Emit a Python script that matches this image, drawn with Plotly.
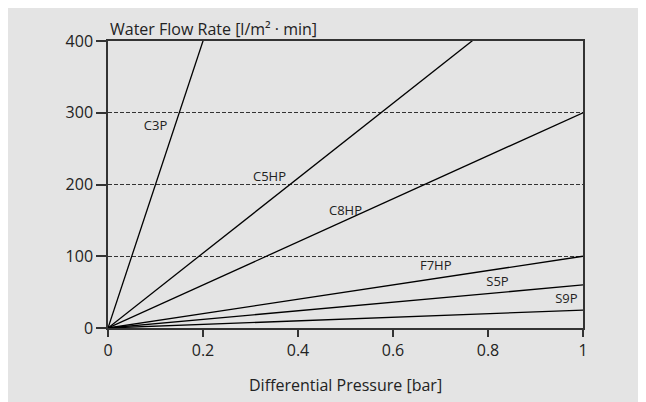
import plotly.graph_objects as go

# Data: flow rate at 1 bar for each membrane type (lines from origin)
names = ["C3P", "C5HP", "C8HP", "F7HP", "S5P", "S9P"]
flow_at_1bar = [2000, 522, 300, 100, 60, 25]
label_x = [0.10, 0.34, 0.50, 0.69, 0.82, 0.965]
label_y = [280, 210, 162, 86, 63, 39]

x_ticks = [0, 0.2, 0.4, 0.6, 0.8, 1]
y_ticks = [0, 100, 200, 300, 400]

FONT = "Open Sans"
GRAY = "#e4e4e4"

fig = go.Figure()
for n, f in zip(names, flow_at_1bar):
    fig.add_trace(go.Scatter(x=[0, 1], y=[0, f], mode="lines",
                             line=dict(color="black", width=1.3),
                             name=n, showlegend=False, hoverinfo="skip",
                             cliponaxis=True))

fig.add_trace(go.Scatter(x=label_x, y=label_y, mode="text", text=names,
                         textfont=dict(family=FONT, size=13, color="#222"),
                         showlegend=False, hoverinfo="skip"))

fig.update_layout(
    width=646, height=402,
    margin=dict(l=100, r=71, t=33, b=82),
    paper_bgcolor=GRAY, plot_bgcolor=GRAY,
    font=dict(family=FONT, size=15, color="#222"),
    annotations=[
        dict(text="Water Flow Rate [l/m² · min]", xref="paper", yref="paper",
             x=0.0, y=0.996, xanchor="left", yanchor="bottom", showarrow=False,
             font=dict(family=FONT, size=16, color="#222")),
        dict(text="Differential Pressure [bar]", xref="paper", yref="paper",
             x=0.5, y=-0.155, xanchor="center", yanchor="top", showarrow=False,
             font=dict(family=FONT, size=16, color="#222")),
    ],
)
fig.update_xaxes(range=[0, 1], tickvals=x_ticks, ticktext=["0", "0.2", "0.4", "0.6", "0.8", "1"],
                 showgrid=False, zeroline=False, showline=True, linecolor="#333", linewidth=1.5,
                 mirror=True, ticks="outside", ticklen=7, tickcolor="#333", tickwidth=1.5,
                 tickfont=dict(size=16), fixedrange=True)
fig.update_yaxes(range=[0, 400], tickvals=y_ticks,
                 showgrid=True, gridcolor="#333", griddash="4px,2px", gridwidth=0.8,
                 zeroline=False, showline=True, linecolor="#333", linewidth=1.5,
                 mirror=True, ticks="outside", ticklen=10, tickcolor="#333", tickwidth=1.5,
                 tickfont=dict(size=16), fixedrange=True)

fig.write_html("out.html")
